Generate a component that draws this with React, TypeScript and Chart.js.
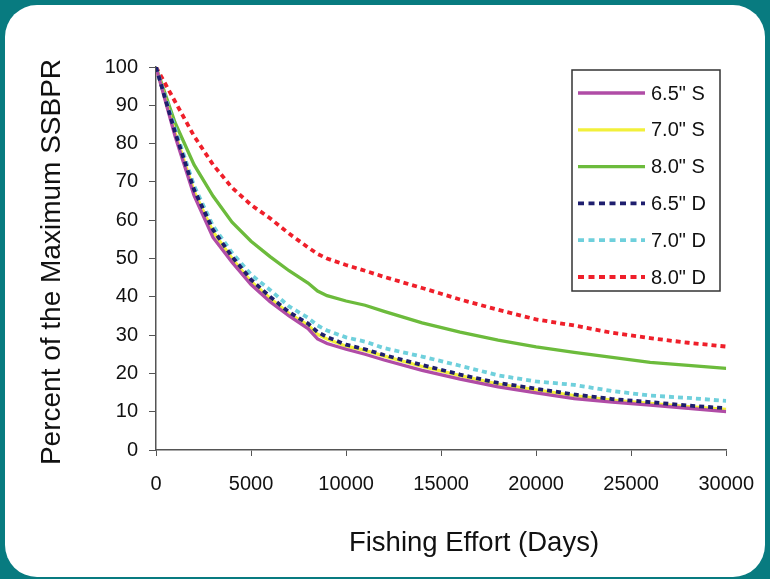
import React, { useEffect, useRef } from "react";
import { Chart, registerables } from "chart.js";

Chart.register(...registerables);

const efforts = [0, 1000, 2000, 3000, 4000, 5000, 6000, 7000, 8000, 8500, 9000, 10000, 11000, 12000, 14000, 16000, 18000, 20000, 22000, 24000, 26000, 28000, 30000];

const s65 = [100, 82, 66.5, 55.5, 49, 43.2, 38.7, 35, 31.7, 29.0, 27.8, 26.3, 25.0, 23.5, 20.8, 18.5, 16.5, 14.9, 13.4, 12.5, 11.7, 10.9, 10.0];
const s70 = [100, 82.8, 67.6, 57, 50, 44, 39.6, 35.6, 32.6, 30.2, 29, 27.1, 26, 24.5, 21.8, 19.4, 17.2, 15.7, 14.2, 13.0, 12.2, 11.3, 10.6];
const s80 = [100, 85.5, 74.5, 66.3, 59.5, 54.5, 50.5, 46.8, 43.6, 41.5, 40.3, 38.9, 37.8, 36.2, 33.2, 30.8, 28.7, 26.9, 25.5, 24.2, 22.9, 22.1, 21.3];
const d65 = [100, 83, 68, 57.5, 50.5, 44.5, 40, 36, 33, 30.8, 29.5, 27.5, 26.3, 24.8, 22.2, 19.7, 17.5, 16.0, 14.5, 13.3, 12.5, 11.6, 10.9];
const d70 = [100, 84, 69, 58.5, 51.5, 45.8, 41.8, 37.5, 34.5, 32.5, 31.2, 29.4, 28.3, 26.6, 24.4, 22.0, 19.5, 17.9, 17.0, 15.4, 14.2, 13.6, 12.8];
const d80 = [100, 91, 82, 74.5, 68.5, 64, 60.5, 56.5, 52.9, 51.2, 50, 48.3, 46.8, 45.2, 42.3, 39.3, 36.6, 34.1, 32.5, 30.6, 29.2, 28.0, 27.0];

const seriesNames = ['6.5" S', '7.0" S', '8.0" S', '6.5" D', '7.0" D', '8.0" D'];
const seriesColors = ["#b04ca6", "#f2f03a", "#6cbb3c", "#1e1e6e", "#6fd0dc", "#ef1f2a"];
const seriesDashed = [false, false, false, true, true, true];
const seriesValues = [s65, s70, s80, d65, d70, d80];

const xTitle = "Fishing Effort (Days)";
const yTitle = "Percent of the Maximum SSBPR";

const FONT = "'Liberation Sans', Arial, sans-serif";

const boxLegend = {
  id: "boxLegend",
  afterDraw(chart: any) {
    const ctx = chart.ctx;
    ctx.save();
    // titles
    ctx.fillStyle = "#111";
    ctx.font = `27.5px ${FONT}`;
    ctx.textAlign = "center";
    ctx.textBaseline = "alphabetic";
    ctx.fillText(xTitle, 474, 551);
    ctx.save();
    ctx.translate(60, 262);
    ctx.rotate(-Math.PI / 2);
    ctx.font = `28px ${FONT}`;
    ctx.fillText(yTitle, 0, 0);
    ctx.restore();
    // legend box
    const bx = 572, by = 70, bw = 148, bh = 221;
    ctx.strokeStyle = "#333";
    ctx.lineWidth = 1.5;
    ctx.strokeRect(bx, by, bw, bh);
    const rowY0 = 93;
    const rowStep = 36.8;
    chart.data.datasets.forEach((ds: any, i: number) => {
      const y = rowY0 + i * rowStep;
      ctx.beginPath();
      ctx.strokeStyle = ds.borderColor;
      ctx.lineWidth = ds.borderWidth;
      ctx.setLineDash(ds.borderDash && ds.borderDash.length ? [6, 4.5] : []);
      ctx.moveTo(578, y);
      ctx.lineTo(645, y);
      ctx.stroke();
      ctx.setLineDash([]);
      ctx.fillStyle = "#111";
      ctx.font = `20px ${FONT}`;
      ctx.textBaseline = "middle";
      ctx.textAlign = "left";
      ctx.fillText(ds.label, 651, y + 1);
    });
    ctx.restore();
  },
};

export default function App() {
  const ref = useRef<HTMLCanvasElement | null>(null);

  useEffect(() => {
    if (!ref.current) return;
    const datasets = seriesNames.map((name, i) => ({
      label: name,
      data: efforts.map((x, j) => ({ x, y: seriesValues[i][j] })),
      borderColor: seriesColors[i],
      backgroundColor: seriesColors[i],
      borderWidth: seriesDashed[i] ? 3.8 : 3.3,
      borderDash: seriesDashed[i] ? [5, 4] : [],
      order: seriesDashed[i] ? 0 : 1,
      pointRadius: 0,
      tension: 0,
      fill: false,
    }));
    const chart = new Chart(ref.current, {
      type: "line",
      data: { datasets },
      plugins: [boxLegend],
      options: {
        animation: false,
        responsive: false,
        layout: { padding: { left: 0, top: 67, right: 43, bottom: 0 } },
        plugins: { legend: { display: false }, tooltip: { enabled: false } },
        scales: {
          x: {
            type: "linear",
            min: 0,
            max: 30000,
            afterFit: (s: any) => { s.height = 129; },
            ticks: { stepSize: 5000, color: "#111", font: { family: FONT, size: 20 }, padding: 16, maxRotation: 0, callback: (v: any) => String(v) },
            grid: { drawOnChartArea: false, tickLength: 6, color: "#555" },
            border: { color: "#555", width: 1.5 },
          },
          y: {
            min: 0,
            max: 100,
            afterFit: (s: any) => { s.width = 156; },
            ticks: { stepSize: 10, color: "#111", font: { family: FONT, size: 20 }, padding: 11 },
            grid: { drawOnChartArea: false, tickLength: 7, color: "#555" },
            border: { color: "#555", width: 1.5 },
          },
        },
      } as any,
    });
    return () => chart.destroy();
  }, []);

  return (
    <div style={{ position: "fixed", left: 0, top: 0, width: 770, height: 579, background: "#087b80", overflow: "hidden" }}>
      <div style={{ position: "absolute", left: 5, top: 5, width: 760, height: 572, background: "#fff", borderRadius: 32 }} />
      <canvas ref={ref} width={770} height={579} style={{ position: "absolute", left: 0, top: 0, width: 770, height: 579 }} />
    </div>
  );
}
